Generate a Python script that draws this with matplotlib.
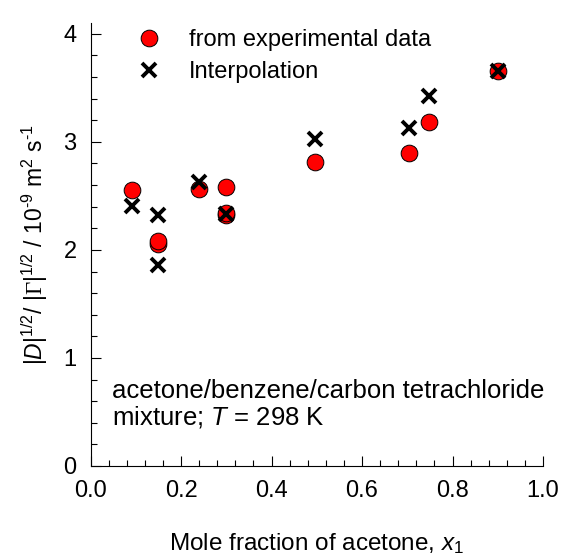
import numpy as np
import matplotlib
matplotlib.use('Agg')
import matplotlib.pyplot as plt
from matplotlib.ticker import MultipleLocator

plt.rcParams['font.family'] = ['Liberation Sans', 'DejaVu Sans']
plt.rcParams['mathtext.fontset'] = 'custom'
plt.rcParams['mathtext.rm'] = 'Liberation Sans'
plt.rcParams['mathtext.it'] = 'Liberation Sans:italic'
plt.rcParams['mathtext.sf'] = 'Liberation Serif'

# data
x_exp = [0.092, 0.148, 0.148, 0.240, 0.299, 0.299, 0.299, 0.495, 0.703, 0.748, 0.900]
y_exp = [2.556, 2.055, 2.086, 2.56, 2.586, 2.32, 2.345, 2.818, 2.898, 3.18, 3.66]

x_int = [0.092, 0.148, 0.148, 0.240, 0.299, 0.495, 0.703, 0.748, 0.900]
y_int = [2.41, 2.324, 1.861, 2.63, 2.33, 3.025, 3.13, 3.42, 3.66]

fig = plt.figure(figsize=(5.66, 5.57), dpi=100)
ax = fig.add_axes([0.160, 0.1634, 0.7994, 0.7953])

ax.plot(x_exp, y_exp, 'o', color='red', markeredgecolor='black', markeredgewidth=0.7,
        markersize=12, linestyle='none', label='from experimental data')
ax.plot(x_int, y_int, 'x', color='black', markeredgewidth=2.8, markersize=9.5,
        linestyle='none', label='Interpolation')

ax.set_xlim(0, 1.0)
ax.set_ylim(0, 4.1)
ax.xaxis.set_major_locator(MultipleLocator(0.2))
ax.xaxis.set_minor_locator(MultipleLocator(0.04))
ax.yaxis.set_major_locator(MultipleLocator(1))
ax.yaxis.set_minor_locator(MultipleLocator(0.2))
ax.xaxis.set_major_formatter(plt.FuncFormatter(lambda v, p: '%.1f' % v))

ax.spines['top'].set_visible(False)
ax.spines['right'].set_visible(False)
ax.tick_params(which='both', direction='in', width=0.8)
ax.tick_params(which='major', length=7.2)
ax.tick_params(which='minor', length=4.3)
ax.tick_params(axis='y', which='major', pad=10, labelsize=17)
ax.tick_params(axis='x', which='major', pad=10, labelsize=17)

ax.set_xlabel('Mole fraction of acetone, $x_1$', fontsize=17.5, labelpad=21)
ax.set_ylabel(r'$|D|^{1/2}$/ $|\mathsf{\Gamma}|^{1/2}$ / 10$^{\text{-}9}$ m$^{2}$ s$^{\text{-}1}$',
              fontsize=16.5, labelpad=10)

ax.text(0.048, 0.138, 'acetone/benzene/carbon tetrachloride\nmixture; $T$ = 298 K',
        transform=ax.transAxes, fontsize=18.5, va='center', ha='left', linespacing=1.05)

ax.legend(loc='upper left', bbox_to_anchor=(0.0767, 1.0135), frameon=False, fontsize=17,
          borderpad=0, handlelength=1.0, handletextpad=1.19, labelspacing=0.43)

fig.savefig('out.png', dpi=100)
